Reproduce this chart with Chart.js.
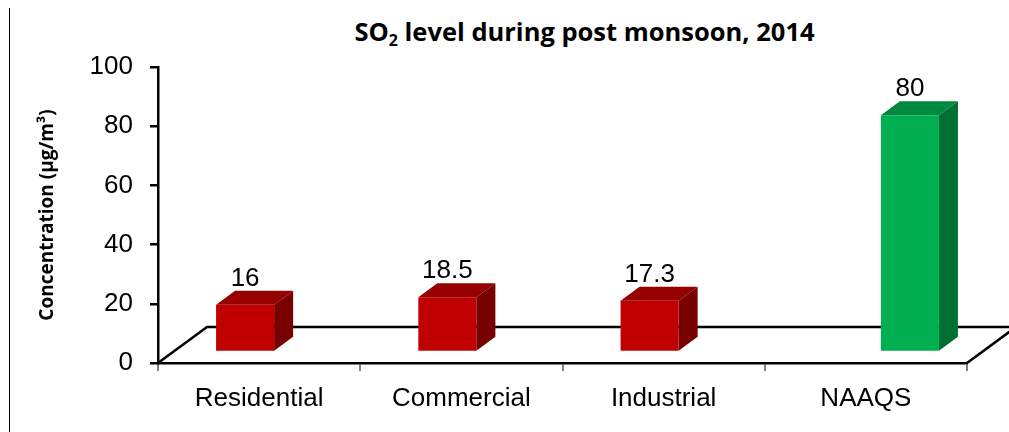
<!DOCTYPE html>
<html>
<head>
<meta charset="utf-8">
<script src="https://cdn.jsdelivr.net/npm/chart.js@4.4.0/dist/chart.umd.min.js"></script>
<style>
  body { margin: 0; background: #fff; }
  #wrap { position: relative; width: 1009px; height: 432px; }
  #frame { position: absolute; left: 9px; top: 8px; bottom: 0; border-left: 1.5px solid #000; }
  #title {
    position: absolute; left: 160px; right: 0; top: 16px;
    text-align: center; font-family: 'Open Sans', sans-serif; font-weight: bold;
    font-size: 25.5px; line-height: 30px; color: #000;
  }
  #title sub { font-size: 16px; vertical-align: -5px; line-height: 0; }
  canvas { position: absolute; left: 0; top: 0; }
</style>
</head>
<body>
<div id="wrap">
  <div id="frame"></div>
  <div id="title">SO<sub>2</sub> level during post monsoon, 2014</div>
  <canvas id="chart" width="1009" height="432"></canvas>
</div>
<script>
var categories = ['Residential', 'Commercial', 'Industrial', 'NAAQS'];
var siteValues = [16, 18.5, 17.3, null];
var standardValues = [null, null, null, 80];
var yTicks = [0, 20, 40, 60, 80, 100];

// fake 3d look: floor depth, where bars stand on the floor, bar depth
var floorDepth = { x: 49, y: -36 };
var barShift = { x: 15, y: -11 };
var barDepth = { x: 19, y: -14 };

var fake3d = {
  id: 'fake3d',
  beforeDatasetsDraw: function(chart) {
    var ctx = chart.ctx;
    var a = chart.chartArea;
    ctx.save();
    ctx.beginPath();
    ctx.moveTo(a.left, a.bottom);
    ctx.lineTo(a.left + floorDepth.x, a.bottom + floorDepth.y);
    ctx.lineTo(a.right + floorDepth.x, a.bottom + floorDepth.y);
    ctx.lineTo(a.right, a.bottom);
    ctx.strokeStyle = '#000';
    ctx.lineWidth = 2.5;
    ctx.stroke();
    ctx.restore();
  },
  beforeDatasetDraw: function(chart) {
    chart.ctx.save();
    chart.ctx.translate(barShift.x, barShift.y);
  },
  afterDatasetDraw: function(chart, args) {
    var ctx = chart.ctx;
    var ds = chart.data.datasets[args.index];
    args.meta.data.forEach(function(bar, i) {
      if (ds.data[i] == null) return;
      var l = bar.x - bar.width / 2, r = bar.x + bar.width / 2;
      var t = bar.y, b = bar.base;
      // top face
      ctx.fillStyle = ds.topColor;
      ctx.beginPath();
      ctx.moveTo(l, t);
      ctx.lineTo(l + barDepth.x, t + barDepth.y);
      ctx.lineTo(r + barDepth.x, t + barDepth.y);
      ctx.lineTo(r, t);
      ctx.closePath();
      ctx.fill();
      // side face
      ctx.fillStyle = ds.sideColor;
      ctx.beginPath();
      ctx.moveTo(r, t);
      ctx.lineTo(r + barDepth.x, t + barDepth.y);
      ctx.lineTo(r + barDepth.x, b + barDepth.y);
      ctx.lineTo(r, b);
      ctx.closePath();
      ctx.fill();
      // value label
      ctx.fillStyle = '#000';
      ctx.font = '26px "Liberation Sans", Arial, sans-serif';
      ctx.textAlign = 'center';
      ctx.textBaseline = 'alphabetic';
      ctx.fillText(String(ds.data[i]), bar.x, t + barDepth.y - 5);
    });
    ctx.restore();
  }
};

var tickFont = { family: '"Liberation Sans", Arial, sans-serif', size: 26 };

var ctx = document.getElementById('chart').getContext('2d');
var chart = new Chart(ctx, {
  type: 'bar',
  data: {
    labels: categories,
    datasets: [
      {
        label: 'Sites',
        data: siteValues,
        backgroundColor: '#C00000',
        topColor: '#960000',
        sideColor: '#780000',
        borderWidth: 0,
        clip: false,
        categoryPercentage: 0.574,
        barPercentage: 1
      },
      {
        label: 'NAAQS',
        data: standardValues,
        backgroundColor: '#00B050',
        topColor: '#008A40',
        sideColor: '#007032',
        borderWidth: 0,
        clip: false,
        categoryPercentage: 0.574,
        barPercentage: 1
      }
    ]
  },
  options: {
    responsive: false,
    animation: false,
    layout: { padding: { top: 67, right: 42, left: 0, bottom: 0 } },
    plugins: {
      legend: { display: false },
      tooltip: { enabled: false },
      title: { display: false }
    },
    scales: {
      x: {
        offset: true,
        grid: { offset: true, drawOnChartArea: false, drawTicks: true, tickLength: 8, color: '#808080', lineWidth: 2 },
        border: { display: true, color: '#000', width: 2.5 },
        ticks: { color: '#000', font: tickFont, padding: 12 },
        afterFit: function(s) { s.height = 69; }
      },
      y: {
        min: 0,
        max: 100,
        afterBuildTicks: function(s) {
          s.ticks = yTicks.map(function(v) { return { value: v }; });
        },
        grid: { drawOnChartArea: false, drawTicks: true, tickLength: 8, color: '#000', lineWidth: 2.5 },
        border: { display: true, color: '#000', width: 2.5 },
        ticks: { color: '#000', font: tickFont, padding: 17 },
        title: {
          display: true,
          text: 'Concentration (µg/m³)',
          color: '#000',
          font: { family: '"Open Sans", sans-serif', weight: 'bold', size: 19 },
          padding: { top: 36, bottom: 0 }
        },
        afterFit: function(s) { s.width = 158; }
      }
    }
  },
  plugins: [fake3d]
});
</script>
</body>
</html>
